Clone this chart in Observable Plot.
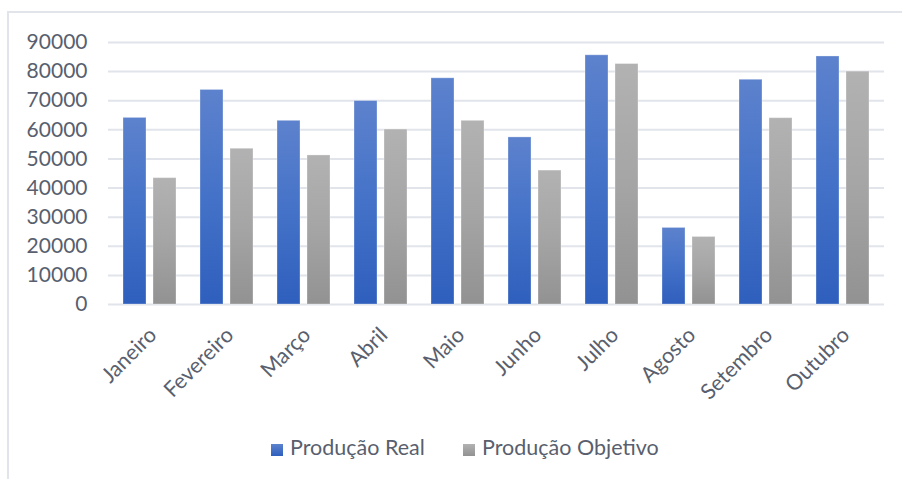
<!DOCTYPE html>
<html>
<head>
<meta charset="utf-8">
<script src="https://cdn.jsdelivr.net/npm/d3@7"></script>
<script src="https://cdn.jsdelivr.net/npm/@observablehq/plot@0.6"></script>
<style>
  html, body { margin: 0; padding: 0; background: #fff; overflow: hidden; width: 902px; height: 479px; }
  #wrap { position: relative; width: 902px; height: 479px; }
  #border { position: absolute; left: 7px; top: 11px; width: 1200px; height: 1000px; border: 2px solid #e1e4ea; }
  #chart { position: absolute; left: 0; top: 0; }
  #legend { position: absolute; left: 0; top: 428px; width: 902px; height: 38px; font-family: Lato, sans-serif; font-size: 21.5px; color: #595f6e; }
  .item { position: absolute; top: 0; height: 38px; line-height: 38px; white-space: nowrap; }
  .sw { display: inline-block; width: 12px; height: 12px; margin-right: 7px; vertical-align: -1px; }
</style>
</head>
<body>
<div id="wrap">
  <div id="border"></div>
  <div id="chart"></div>
  <div id="legend"></div>
</div>
<script>
const months = ["Janeiro", "Fevereiro", "Março", "Abril", "Maio", "Junho", "Julho", "Agosto", "Setembro", "Outubro"];
const real = [64100, 73700, 63100, 69900, 77700, 57400, 85600, 26300, 77200, 85200];
const objetivo = [43400, 53500, 51200, 60100, 63100, 46000, 82600, 23200, 64000, 80000];
const series = ["Produção Real", "Produção Objetivo"];
const yTicks = [0, 10000, 20000, 30000, 40000, 50000, 60000, 70000, 80000, 90000];

const realData = months.map((m, i) => ({month: m, value: real[i]}));
const objData = months.map((m, i) => ({month: m, value: objetivo[i]}));

const svg = Plot.plot({
  width: 902,
  height: 428,
  marginLeft: 108,
  marginRight: 18,
  marginTop: 42,
  marginBottom: 124,
  style: {fontFamily: "Lato, sans-serif", fontSize: "20px", color: "#595f6e", background: "transparent", overflow: "visible"},
  x: {domain: months, paddingInner: 0.317, paddingOuter: 0.158, label: null},
  y: {domain: [0, 90000], label: null},
  marks: [
    Plot.gridY(yTicks, {stroke: "#e1e4ea", strokeOpacity: 1, strokeWidth: 2}),
    Plot.barY(realData, {x: "month", y: "value", insetRight: 30, fill: "url(#gReal)", stroke: "#ffffff", strokeOpacity: 0.3}),
    Plot.barY(objData, {x: "month", y: "value", insetLeft: 30, fill: "url(#gObj)", stroke: "#ffffff", strokeOpacity: 0.3}),
    Plot.axisY({ticks: yTicks, tickSize: 0, tickPadding: 21, tickFormat: d => String(d), fontSize: 21, label: null}),
    Plot.axisX({tickSize: 0, tickPadding: 27, tickRotate: -45, dx: 3, fontSize: 21.5, label: null})
  ]
});

const defs = d3.select(svg).insert("defs", ":first-child");
const g1 = defs.append("linearGradient").attr("id", "gReal").attr("x1", 0).attr("y1", 0).attr("x2", 0).attr("y2", 1);
g1.append("stop").attr("offset", "0%").attr("stop-color", "#5d82cd");
g1.append("stop").attr("offset", "50%").attr("stop-color", "#4472c8");
g1.append("stop").attr("offset", "100%").attr("stop-color", "#2f5fbd");
const g2 = defs.append("linearGradient").attr("id", "gObj").attr("x1", 0).attr("y1", 0).attr("x2", 0).attr("y2", 1);
g2.append("stop").attr("offset", "0%").attr("stop-color", "#b2b2b2");
g2.append("stop").attr("offset", "50%").attr("stop-color", "#a5a5a5");
g2.append("stop").attr("offset", "100%").attr("stop-color", "#929292");

document.getElementById("chart").appendChild(svg);

const legend = document.getElementById("legend");
const legendColors = ["linear-gradient(#5d82cd, #2f5fbd)", "linear-gradient(#b2b2b2, #929292)"];
const legendX = [271, 463];
series.forEach((s, i) => {
  const it = document.createElement("div");
  it.className = "item";
  it.style.left = legendX[i] + "px";
  const sw = document.createElement("span");
  sw.className = "sw";
  sw.style.background = legendColors[i];
  it.appendChild(sw);
  it.appendChild(document.createTextNode(s));
  legend.appendChild(it);
});
</script>
</body>
</html>
